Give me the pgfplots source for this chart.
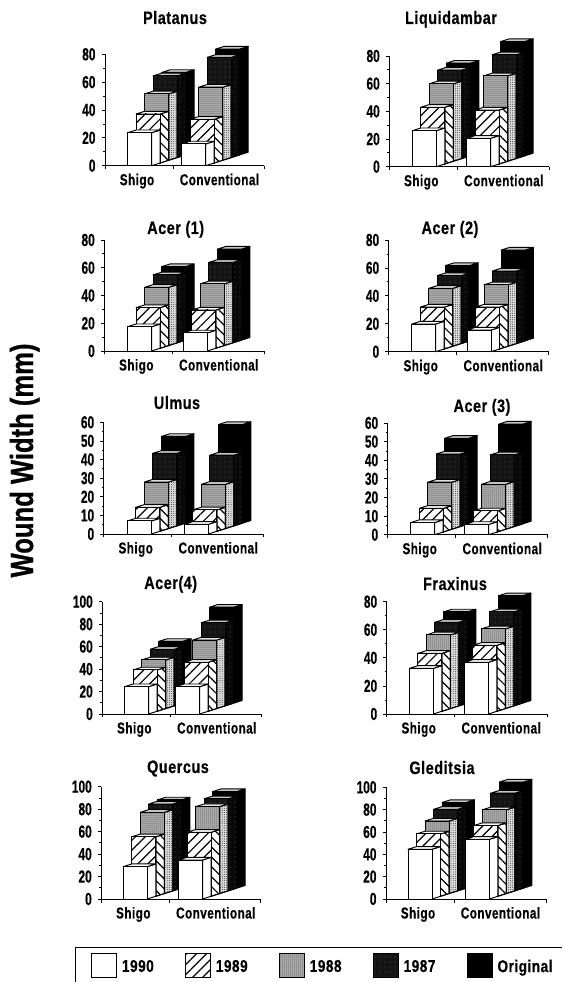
\documentclass[border=0pt]{standalone}
\usepackage{fontspec}
\usepackage{pgfplots}
\pgfplotsset{compat=1.18}
\usetikzlibrary{patterns,patterns.meta}
\setmainfont{Liberation Sans}
\newfontfamily\cbf{Liberation Sans Bold}[FakeStretch=0.8,LetterSpace=3,FakeBold=0.5]
\newfontfamily\cbc{Liberation Sans Bold}[FakeStretch=0.74,LetterSpace=3,FakeBold=0.5]
\newfontfamily\cbd{Liberation Sans Bold}[FakeStretch=0.68,FakeBold=0.5]
\newfontfamily\cbw{Liberation Sans Bold}[FakeStretch=0.8,FakeBold=0.8]
\def\Titlefont{\cbf\fontsize{18}{20}\selectfont}
\def\Catfont{\cbc\fontsize{15.8}{17}\selectfont}
\def\Numfont{\cbd\fontsize{17.5}{19}\selectfont}
\def\Legfont{\cbf\fontsize{17}{19}\selectfont}
\definecolor{gfront}{gray}{0.72}
\definecolor{gside}{gray}{0.85}
\definecolor{dfront}{gray}{0.08}
\definecolor{dside}{gray}{0.03}
\tikzset{
  bl/.style={draw=black,line width=0.95pt,line join=round},
  hatchf/.style={postaction={pattern={Lines[angle=45,distance=7pt,line width=1.2pt]}}},
  hatchs/.style={postaction={pattern={Lines[angle=-45,distance=7pt,line width=1.2pt]}}},
  speckg/.style={postaction={pattern={Dots[distance=2pt,radius=0.5pt]}}},
  speckgs/.style={postaction={pattern={Dots[distance=2.2pt,radius=0.42pt]}}},
  speckd/.style={postaction={pattern={Dots[distance=5pt,radius=0.3pt]},pattern color=gray!60}},
  front0/.style={bl,fill=white},
  side0/.style={bl,fill=white},
  top0/.style={bl,fill=white},
  front1/.style={bl,fill=white,hatchf},
  side1/.style={bl,fill=white,hatchs},
  top1/.style={bl,fill=white},
  front2/.style={bl,fill=gfront,speckg},
  side2/.style={bl,fill=gside,speckgs},
  top2/.style={bl,fill=gray!25},
  front3/.style={bl,fill=dfront,speckd},
  side3/.style={bl,fill=dside,speckd},
  top3/.style={bl,fill=gray!45},
  front4/.style={bl,fill=black},
  side4/.style={bl,fill=black},
  top4/.style={bl,fill=gray!45},
}
% one box: #1 series depth (0 front .. 4 back), #2 left x in px of its group, #3 value
\newcommand{\OneBox}[3]{%
  \pgfmathsetmacro\xa{#2+#1*8.5}\pgfmathsetmacro\xb{\xa+24}%
  \pgfmathsetmacro\xc{\xb+8.5}\pgfmathsetmacro\xd{\xa+8.5}%
  \pgfmathsetmacro\ya{#1*2.7*\upx}\pgfmathsetmacro\yb{\ya+#3}%
  \pgfmathsetmacro\yc{\yb+2.7*\upx}\pgfmathsetmacro\yd{\ya+2.7*\upx}%
  \addplot[side#1] coordinates {(\xb,\ya)(\xb,\yb)(\xc,\yc)(\xc,\yd)} --cycle;
  \addplot[top#1] coordinates {(\xa,\yb)(\xb,\yb)(\xc,\yc)(\xd,\yc)} --cycle;
  \addplot[front#1] coordinates {(\xa,\ya)(\xa,\yb)(\xb,\yb)(\xb,\ya)} --cycle;
}
\newcommand{\Row}[3]{\OneBox{#1}{\Sx}{#2}\OneBox{#1}{\Cx}{#3}}
% left,right,y0,ytop | ymax,step | title,title centre x,title baseline y | Shigo x, Conv. x | rows
\newcommand{\Panel}[9]{%
  \def\PL{#1}\def\PR{#2}\def\PB{#3}\def\PT{#4}\def\YM{#5}\def\YS{#6}\def\TT{#7}\def\TX{#8}\def\TY{#9}\PanelB}
\newcommand{\PanelB}[3]{%
  \pgfmathsetmacro\PW{\PR-\PL}\pgfmathsetmacro\PH{\PB-\PT}%
  \pgfmathsetmacro\upx{\YM/\PH}\pgfmathsetmacro\TF{(\TX-\PL)/\PW}\pgfmathsetmacro\TS{\PT-\TY-7}%
  \pgfmathsetmacro\PY{982-\PB}%
  \pgfmathsetmacro\Sx{#1}\pgfmathsetmacro\Cx{#2}%
  \begin{axis}[
    at={(\PL pt,\PY pt)},anchor=origin,scale only axis,width=\PW pt,height=\PH pt,
    xmin=0,xmax=\PW,ymin=0,ymax=\YM,clip=false,
    axis x line=bottom,axis y line=left,axis line style={-,line width=0.9pt},
    tick align=outside,major tick length=3.5pt,minor tick length=2pt,
    every tick/.style={black,line width=0.8pt},
    xtick={0,68,\PW},xticklabels={},
    extra x ticks={32,114.5},extra x tick labels={Shigo,Conventional},
    extra x tick style={major tick length=0pt,
      tick label style={font=\Catfont,anchor=base,yshift=-19.5pt}},
    ytick distance=\YS,minor y tick num=1,
    y tick label style={font=\Numfont,/pgf/number format/assume math mode=true},
    yticklabel style={xshift=-2.5pt},
    title={\TT},title style={font=\Titlefont,at={(axis description cs:\TF,1)},anchor=base,yshift=\TS pt},
  ]
  #3
  \end{axis}}
\begin{document}
\begin{tikzpicture}[x=1pt,y=1pt]
\path[use as bounding box] (0,0) rectangle (562,982);
\node[rotate=90,anchor=base,inner sep=0pt,font=\cbw\fontsize{32}{34}\selectfont] at (33,521.5) {Wound Width (mm)};

\Panel{105}{264}{165.7}{54.3}{80}{20}{Platanus}{175}{23}{22.7}{76.7}{
 \Row{4}{59.2}{76}\Row{3}{58.7}{72}\Row{2}{47.7}{52.5}\Row{1}{35.2}{31.4}\Row{0}{23.7}{15.6}}
\Panel{389.3}{549.3}{166.7}{56}{80}{20}{Liquidambar}{451}{23}{23}{77.3}{
 \Row{4}{67}{82.6}\Row{3}{64}{75}\Row{2}{56}{61.7}\Row{1}{41}{39}\Row{0}{26}{20.5}}
\Panel{104.3}{264}{351}{240}{80}{20}{Acer (1)}{175.7}{233}{23.3}{79}{
 \Row{4}{53}{65.6}\Row{3}{49}{58}\Row{2}{42}{44.5}\Row{1}{29.3}{27.6}\Row{0}{17.5}{13}}
\Panel{388.7}{548.7}{351.7}{240}{80}{20}{Acer (2)}{450}{233}{23}{78.3}{
 \Row{4}{54}{65}\Row{3}{48.7}{52}\Row{2}{41.5}{44}\Row{1}{30}{30}\Row{0}{19.8}{15.5}}
\Panel{103.7}{263.3}{534}{422.3}{60}{10}{Ulmus}{177}{408}{23.7}{80.7}{
 \Row{4}{46.6}{53}\Row{3}{39}{38}\Row{2}{25}{23.8}\Row{1}{12.9}{11.5}\Row{0}{7}{5.2}}
\Panel{387.7}{547.7}{534.7}{423}{60}{10}{Acer (3)}{482}{411}{23}{77}{
 \Row{4}{46}{53.6}\Row{3}{39}{38.5}\Row{2}{25.3}{24.2}\Row{1}{12.7}{11.3}\Row{0}{6.5}{5.5}}
\Panel{102.3}{261.7}{714}{601.7}{100}{20}{Acer(4)}{170.7}{588}{22.3}{73.3}{
 \Row{4}{55}{85.5}\Row{3}{50.4}{74}\Row{2}{43.3}{61}\Row{1}{36.8}{43.6}\Row{0}{24.3}{24.3}}
\Panel{386.7}{547}{714}{601.7}{80}{20}{Fraxinus}{455}{589}{22.7}{77.7}{
 \Row{4}{65}{76.5}\Row{3}{59.6}{67}\Row{2}{52.5}{56.8}\Row{1}{41.3}{47}\Row{0}{32.5}{36.8}}
\Panel{101.3}{260.3}{899}{786.7}{100}{20}{Quercus}{178}{772}{22}{77.3}{
 \Row{4}{78.6}{86}\Row{3}{77.4}{82}\Row{2}{72.4}{77.4}\Row{1}{53}{57}\Row{0}{28.8}{34.7}}
\Panel{386}{546}{899}{787.3}{100}{20}{Gleditsia}{442}{773}{22}{79.3}{
 \Row{4}{76.7}{95}\Row{3}{73}{87.5}\Row{2}{65}{75}\Row{1}{55.8}{63.3}\Row{0}{44.5}{53.4}}

\draw[line width=0.9pt] (562,34.3) -- (75.7,34.3) -- (75.7,0);
\begin{axis}[
  hide axis,at={(76pt,0pt)},anchor=south west,scale only axis,width=486pt,height=34pt,
  xmin=0,xmax=1,ymin=0,ymax=1,
  legend style={at={(0,0.48)},anchor=west,draw=none,fill=none,legend columns=5,
    font=\Legfont,inner xsep=0pt,inner ysep=0pt,xshift=15pt,
    /tikz/every even column/.append style={column sep=29.3pt}},
]
\addlegendimage{legend image code/.code={\draw[black,line width=1.2pt,fill=white] (0,-11pt) rectangle (25pt,13pt);\path (28pt,0);}}
\addlegendentry{1990}
\addlegendimage{legend image code/.code={\draw[black,line width=1.2pt,fill=white,hatchf] (0,-11pt) rectangle (25pt,13pt);\path (28pt,0);}}
\addlegendentry{1989}
\addlegendimage{legend image code/.code={\draw[black,line width=1.2pt,fill=gfront,speckg] (0,-11pt) rectangle (25pt,13pt);\path (28pt,0);}}
\addlegendentry{1988}
\addlegendimage{legend image code/.code={\draw[black,line width=1.2pt,fill=dfront,speckd] (0,-11pt) rectangle (25pt,13pt);\path (28pt,0);}}
\addlegendentry{1987}
\addlegendimage{legend image code/.code={\draw[black,line width=1.2pt,fill=black] (0,-11pt) rectangle (25pt,13pt);\path (28pt,0);}}
\addlegendentry{Original}
\end{axis}
\end{tikzpicture}
\end{document}
